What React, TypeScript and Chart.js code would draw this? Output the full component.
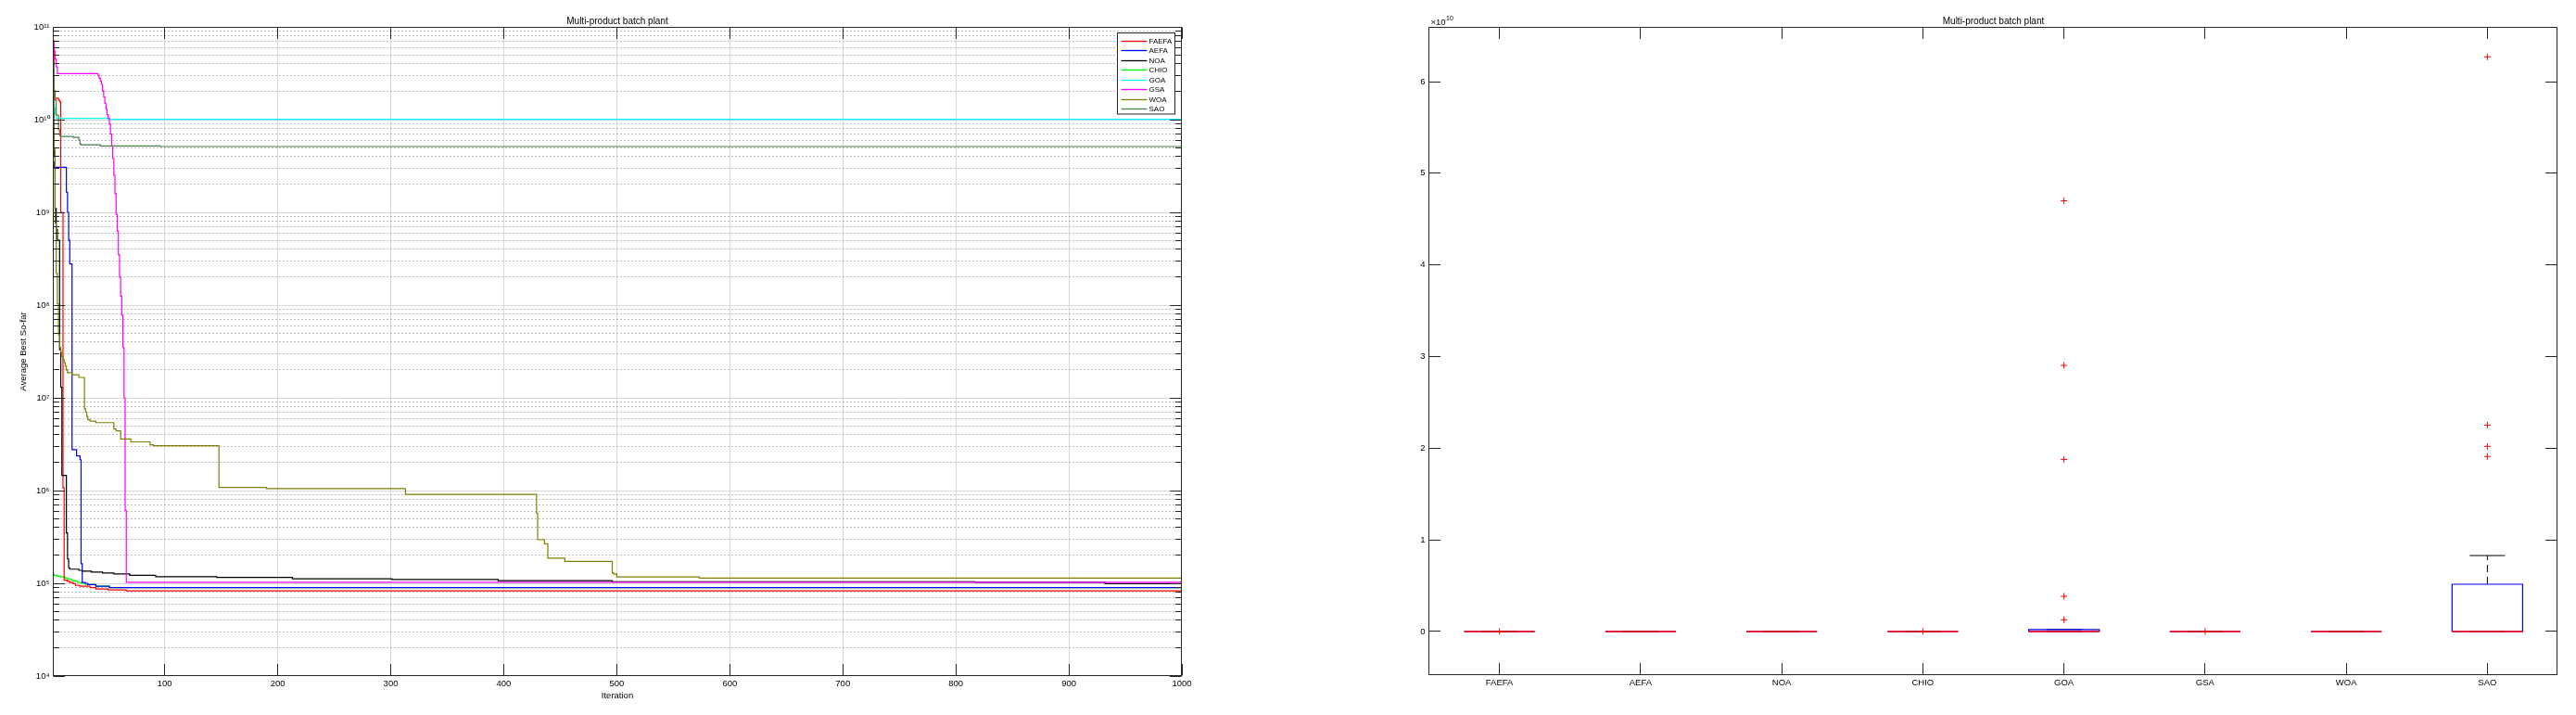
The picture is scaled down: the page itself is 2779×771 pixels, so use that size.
import React, { useEffect, useRef } from 'react';
import { Chart, registerables } from 'chart.js';

Chart.register(...registerables);

const FONT = '"Liberation Sans", Arial, Helvetica, sans-serif';
const TEXT_COLOR = '#000000';
const AXIS_COLOR = '#262626';
const MAJOR_GRID = '#d9d9d9';
const MINOR_GRID = '#bdbdbd';

// ================= Left panel: convergence curves =================
const chartTitle = 'Multi-product batch plant';
const xAxisLabel = 'Iteration';
const yAxisLabel = 'Average Best So-far';
const iterTicks = [100, 200, 300, 400, 500, 600, 700, 800, 900, 1000];
const decadeTicks = [1e4, 1e5, 1e6, 1e7, 1e8, 1e9, 1e10, 1e11];
const minorMultipliers = [2, 3, 4, 5, 6, 7, 8, 9];

const seriesNames = ['FAEFA', 'AEFA', 'NOA', 'CHIO', 'GOA', 'GSA', 'WOA', 'SAO'];
const seriesColors = ['#ff0000', '#0000ff', '#000000', '#00ff00', '#00ffff', '#ff00ff', '#808000', '#4c7f4c'];
const seriesLayer = [8, 7, 6, 9, 4, 3, 2, 1];

const faefaIter = [1, 2, 3, 6, 7, 8, 10, 11, 14, 16, 19, 21, 25, 34, 39, 50, 66, 1000];
const faefaVal = [7.1e10, 2.05e10, 1.7e10, 1.63e10, 1.55e10, 1.0e9, 1.07e6, 1.08e5, 1.05e5, 1.02e5, 9.9e4, 9.5e4, 9.3e4, 9.0e4, 8.7e4, 8.5e4, 8.3e4, 8.3e4];

const aefaIter = [1, 2, 13, 14, 15, 16, 18, 22, 25, 26, 27, 30, 32, 39, 51, 1000];
const aefaVal = [3.5e9, 3.07e9, 1.65e9, 1.0e9, 5.0e8, 2.78e8, 2.76e6, 2.36e6, 2.15e6, 1.63e5, 1.02e5, 1.0e5, 9.7e4, 9.3e4, 9.0e4, 9.0e4];

const noaIter = [1, 2, 3, 4, 5, 7, 8, 9, 13, 14, 15, 16, 24, 27, 35, 45, 55, 69, 92, 146, 213, 301, 395, 496, 817, 932, 1000];
const noaVal = [2.3e10, 4.0e9, 1.1e9, 6.5e8, 5.0e8, 3.3e7, 1.3e7, 1.46e6, 3.5e5, 1.83e5, 1.47e5, 1.42e5, 1.38e5, 1.35e5, 1.32e5, 1.29e5, 1.26e5, 1.22e5, 1.18e5, 1.16e5, 1.12e5, 1.1e5, 1.07e5, 1.04e5, 1.025e5, 9.9e4, 9.9e4];

const chioIter = [1, 2, 5, 8, 12, 14, 16, 18, 21, 23, 26, 30, 39, 51, 1000];
const chioVal = [1.28e5, 1.22e5, 1.19e5, 1.17e5, 1.14e5, 1.12e5, 1.1e5, 1.07e5, 1.05e5, 1.02e5, 1.0e5, 9.7e4, 9.3e4, 9.0e4, 9.0e4];

const goaIter = [1, 2, 3, 4, 51, 1000];
const goaVal = [1.6e10, 1.35e10, 1.15e10, 1.03e10, 1.01e10, 3.4e9];

const gsaIter = [1, 2, 3, 4, 5, 41, 42, 43, 44, 45, 46, 47, 48, 49, 50, 51, 52, 53, 54, 55, 56, 57, 58, 59, 60, 61, 62, 63, 64, 65, 66, 1000];
const gsaVal = [6.8e10, 5.5e10, 4.5e10, 3.7e10, 3.13e10, 3.0e10, 2.8e10, 2.6e10, 2.4e10, 2.05e10, 1.75e10, 1.5e10, 1.3e10, 1.13e10, 1.03e10, 9.0e9, 7.0e9, 5.2e9, 3.8e9, 2.5e9, 1.6e9, 9.5e8, 6.3e8, 3.5e8, 2.0e8, 1.25e8, 7.8e7, 3.5e7, 1.0e7, 6.1e5, 1.025e5, 1.025e5];

const woaIter = [1, 2, 3, 4, 5, 6, 7, 8, 9, 10, 11, 12, 13, 14, 18, 24, 29, 30, 31, 32, 34, 39, 55, 57, 61, 70, 87, 90, 148, 190, 313, 429, 430, 436, 439, 454, 496, 497, 500, 573, 1000];
const woaVal = [4.1e10, 4.8e9, 7.6e8, 2.2e8, 1.03e8, 4.8e7, 3.5e7, 3.1e7, 2.8e7, 2.6e7, 2.4e7, 2.2e7, 2.0e7, 1.87e7, 1.77e7, 1.66e7, 7.6e6, 7.0e6, 6.3e6, 5.8e6, 5.6e6, 5.4e6, 4.6e6, 4.4e6, 3.6e6, 3.35e6, 3.12e6, 3.04e6, 1.08e6, 1.05e6, 9.1e5, 5.7e5, 2.95e5, 2.67e5, 1.87e5, 1.72e5, 1.3e5, 1.26e5, 1.17e5, 1.14e5, 1.14e5];

const saoIter = [1, 2, 3, 4, 6, 7, 8, 19, 24, 25, 26, 43, 96, 1000];
const saoVal = [4.1e10, 2.05e10, 1.63e10, 1.12e10, 7.8e9, 6.7e9, 6.6e9, 6.45e9, 6.0e9, 5.45e9, 5.35e9, 5.2e9, 5.13e9, 5.13e9];

// ================= Right panel: box plot =================
const boxCategories = ['FAEFA', 'AEFA', 'NOA', 'CHIO', 'GOA', 'GSA', 'WOA', 'SAO'];
const boxQ1 = [8.2e4, 8.9e4, 9.8e4, 8.9e4, 9.6e4, 1.01e5, 1.12e5, 9.8e4];
const boxMedian = [8.3e4, 9.0e4, 9.9e4, 9.0e4, 1.3e5, 1.02e5, 1.14e5, 1.6e5];
const boxQ3 = [8.4e4, 9.1e4, 1.0e5, 9.1e4, 2.2e8, 1.03e5, 1.16e5, 5.16e9];
const whiskerLow = [8.1e4, 8.8e4, 9.7e4, 8.8e4, 9.0e4, 1.0e5, 1.1e5, 9.2e4];
const whiskerHigh = [8.5e4, 9.2e4, 1.01e5, 9.2e4, 2.3e8, 1.04e5, 1.18e5, 8.29e9];
const outlierCat = [1, 4, 5, 5, 5, 5, 5, 6, 8, 8, 8, 8];
const outlierVal = [1.2e7, 9.0e6, 4.70e10, 2.904e10, 1.878e10, 3.84e9, 1.28e9, 6.5e6, 6.27e10, 2.252e10, 2.02e10, 1.909e10];
const boxTicks = [0, 1e10, 2e10, 3e10, 4e10, 5e10, 6e10];
const boxExponent = 10;
const boxYMin = -4.756e9;
const boxYMax = 6.597e10;

const BOX_HALF = 0.25;
const CAP_HALF = 0.125;

const SUP: Record<string, string> = { '0': '⁰', '1': '¹', '2': '²', '3': '³', '4': '⁴', '5': '⁵', '6': '⁶', '7': '⁷', '8': '⁸', '9': '⁹' };
const powLabel = (v: number) =>
  '10' + String(Math.round(Math.log10(v))).split('').map((c) => SUP[c] || c).join('');

const px = (v: number) => Math.floor(v) + 0.5;

function hLine(ctx: CanvasRenderingContext2D, x1: number, x2: number, y: number) {
  ctx.beginPath();
  ctx.moveTo(x1, y);
  ctx.lineTo(x2, y);
  ctx.stroke();
}
function vLine(ctx: CanvasRenderingContext2D, x: number, y1: number, y2: number) {
  ctx.beginPath();
  ctx.moveTo(x, y1);
  ctx.lineTo(x, y2);
  ctx.stroke();
}

const convergenceFrame = {
  id: 'convergenceFrame',
  beforeDatasetsDraw(chart: any) {
    const { ctx, chartArea: ca, scales } = chart;
    const x = scales.x;
    const y = scales.y;
    ctx.save();
    ctx.lineWidth = 1;
    ctx.strokeStyle = MAJOR_GRID;
    ctx.setLineDash([]);
    iterTicks.forEach((t) => {
      const X = px(x.getPixelForValue(t));
      if (X > ca.left + 1 && X < ca.right - 1) vLine(ctx, X, ca.top, ca.bottom);
    });
    decadeTicks.forEach((d, i) => {
      if (i > 0 && i < decadeTicks.length - 1) {
        ctx.strokeStyle = MAJOR_GRID;
        ctx.setLineDash([]);
        hLine(ctx, ca.left, ca.right, px(y.getPixelForValue(d)));
      }
      if (i < decadeTicks.length - 1) {
        ctx.strokeStyle = MINOR_GRID;
        ctx.setLineDash([2, 2]);
        minorMultipliers.forEach((m) => {
          hLine(ctx, ca.left, ca.right, px(y.getPixelForValue(m * d)));
        });
      }
    });
    ctx.restore();
  },
  afterDatasetsDraw(chart: any) {
    const { ctx, chartArea: ca, scales } = chart;
    const x = scales.x;
    const y = scales.y;
    ctx.save();
    ctx.setLineDash([]);
    ctx.lineWidth = 1;
    ctx.strokeStyle = AXIS_COLOR;
    const L = px(ca.left), R = px(ca.right - 1), T = px(ca.top), B = px(ca.bottom - 1);
    ctx.strokeRect(L, T, R - L, B - T);
    iterTicks.forEach((t) => {
      const X = px(x.getPixelForValue(t));
      vLine(ctx, X, B, B - 12.5);
      vLine(ctx, X, T, T + 12.5);
    });
    decadeTicks.forEach((d, i) => {
      const Y = px(y.getPixelForValue(d));
      hLine(ctx, L, L + 12.5, Y);
      hLine(ctx, R, R - 12.5, Y);
      if (i < decadeTicks.length - 1) {
        minorMultipliers.forEach((m) => {
          const Ym = px(y.getPixelForValue(m * d));
          hLine(ctx, L, L + 6.5, Ym);
          hLine(ctx, R, R - 6.5, Ym);
        });
      }
    });
    ctx.restore();
  },
  afterDraw(chart: any) {
    const { ctx, chartArea: ca } = chart;
    const ds = chart.data.datasets;
    const rowH = 10.5;
    const boxW = 62;
    const padTop = 8;
    const padBottom = 6;
    const boxH = padTop + rowH * (ds.length - 1) + padBottom;
    const bx = Math.round(ca.right - 8 - boxW) + 0.5;
    const by = Math.round(ca.top + 6) + 0.5;
    ctx.save();
    ctx.fillStyle = '#ffffff';
    ctx.fillRect(bx, by, boxW, boxH);
    ctx.strokeStyle = AXIS_COLOR;
    ctx.lineWidth = 1;
    ctx.setLineDash([]);
    ctx.strokeRect(bx, by, boxW, boxH);
    ctx.font = `8px ${FONT}`;
    ctx.textAlign = 'left';
    ctx.textBaseline = 'middle';
    ds.forEach((d: any, i: number) => {
      const cy = by + padTop + i * rowH;
      ctx.strokeStyle = d.borderColor;
      ctx.lineWidth = 1.3;
      hLine(ctx, bx + 4, bx + 32, Math.round(cy) + 0.5);
      ctx.fillStyle = TEXT_COLOR;
      ctx.fillText(d.label, bx + 34, cy + 1);
    });
    ctx.restore();
  },
};

const boxFrame = {
  id: 'boxFrame',
  afterDatasetsDraw(chart: any) {
    const { ctx, chartArea: ca, scales } = chart;
    const x = scales.x;
    const y = scales.y;
    ctx.save();
    ctx.setLineDash([]);
    ctx.lineWidth = 1;
    ctx.strokeStyle = AXIS_COLOR;
    const L = px(ca.left), R = px(ca.right - 1), T = px(ca.top), B = px(ca.bottom - 1);
    ctx.strokeRect(L, T, R - L, B - T);
    boxCategories.forEach((_, i) => {
      const X = px(x.getPixelForValue(i + 1));
      vLine(ctx, X, B, B - 12.5);
      vLine(ctx, X, T, T + 12.5);
    });
    boxTicks.forEach((t) => {
      const Y = px(y.getPixelForValue(t));
      hLine(ctx, L, L + 12.5, Y);
      hLine(ctx, R, R - 12.5, Y);
    });
    ctx.fillStyle = TEXT_COLOR;
    ctx.textAlign = 'left';
    ctx.textBaseline = 'alphabetic';
    ctx.font = `9.5px ${FONT}`;
    const tx = ca.left + 2;
    const ty = ca.top - 2.5;
    ctx.fillText('×10', tx, ty);
    const w = ctx.measureText('×10').width;
    ctx.font = `7px ${FONT}`;
    ctx.fillText(String(boxExponent), tx + w + 0.5, ty - 4.5);
    ctx.restore();
  },
};

const tickFont = { family: FONT, size: 9.5 };

function convergenceConfig(): any {
  const pairs = [
    [faefaIter, faefaVal],
    [aefaIter, aefaVal],
    [noaIter, noaVal],
    [chioIter, chioVal],
    [goaIter, goaVal],
    [gsaIter, gsaVal],
    [woaIter, woaVal],
    [saoIter, saoVal],
  ];
  const datasets = seriesNames.map((name, i) => ({
    label: name,
    data: pairs[i][0].map((it, j) => ({ x: it, y: pairs[i][1][j] })),
    borderColor: seriesColors[i],
    backgroundColor: seriesColors[i],
    borderWidth: 1.2,
    pointRadius: 0,
    pointHoverRadius: 0,
    stepped: 'before',
    tension: 0,
    fill: false,
    order: seriesLayer[i],
  }));
  return {
    type: 'line',
    data: { datasets },
    plugins: [convergenceFrame],
    options: {
      animation: false,
      responsive: false,
      devicePixelRatio: 1,
      parsing: true,
      layout: { padding: 0 },
      plugins: {
        legend: { display: false },
        tooltip: { enabled: false },
        title: {
          display: true,
          text: chartTitle,
          color: TEXT_COLOR,
          font: { family: FONT, size: 10, weight: 'normal' },
          padding: { top: 17, bottom: 0 },
        },
      },
      scales: {
        x: {
          type: 'linear',
          min: 1,
          max: 1000,
          afterBuildTicks: (s: any) => {
            s.ticks = iterTicks.map((v) => ({ value: v }));
          },
          afterFit: (s: any) => {
            s.height = 42;
          },
          grid: { display: false, drawTicks: false },
          border: { display: false },
          ticks: {
            autoSkip: false,
            maxRotation: 0,
            padding: 3,
            color: TEXT_COLOR,
            font: tickFont,
            callback: (v: any) => String(v),
          },
          title: {
            display: true,
            text: xAxisLabel,
            color: TEXT_COLOR,
            font: tickFont,
            padding: { top: 0, bottom: 15.3 },
          },
        },
        y: {
          type: 'logarithmic',
          position: 'left',
          min: 1e4,
          max: 1e11,
          afterBuildTicks: (s: any) => {
            s.ticks = decadeTicks.map((v) => ({ value: v }));
          },
          afterFit: (s: any) => {
            s.width = 57;
          },
          grid: { display: false, drawTicks: false },
          border: { display: false },
          ticks: {
            autoSkip: false,
            padding: 3.5,
            color: TEXT_COLOR,
            font: tickFont,
            callback: (v: any) => powLabel(Number(v)),
          },
          title: {
            display: true,
            text: yAxisLabel,
            color: TEXT_COLOR,
            font: tickFont,
            padding: { top: 20, bottom: 0 },
          },
        },
        yMirror: {
          type: 'linear',
          position: 'right',
          display: true,
          grid: { display: false, drawTicks: false },
          border: { display: false },
          ticks: { display: false },
          afterFit: (s: any) => {
            s.width = 57;
          },
        },
      },
    },
  };
}

function boxConfig(): any {
  const boxes: any[] = [];
  const whiskers: any[] = [];
  const caps: any[] = [];
  const medians: any[] = [];
  boxCategories.forEach((_, i) => {
    const c = i + 1;
    boxes.push(
      { x: c - BOX_HALF, y: boxQ1[i] },
      { x: c - BOX_HALF, y: boxQ3[i] },
      { x: c + BOX_HALF, y: boxQ3[i] },
      { x: c + BOX_HALF, y: boxQ1[i] },
      { x: c - BOX_HALF, y: boxQ1[i] },
      { x: c, y: null }
    );
    whiskers.push(
      { x: c, y: boxQ3[i] },
      { x: c, y: whiskerHigh[i] },
      { x: c, y: null },
      { x: c, y: boxQ1[i] },
      { x: c, y: whiskerLow[i] },
      { x: c, y: null }
    );
    caps.push(
      { x: c - CAP_HALF, y: whiskerHigh[i] },
      { x: c + CAP_HALF, y: whiskerHigh[i] },
      { x: c, y: null },
      { x: c - CAP_HALF, y: whiskerLow[i] },
      { x: c + CAP_HALF, y: whiskerLow[i] },
      { x: c, y: null }
    );
    medians.push({ x: c - BOX_HALF, y: boxMedian[i] }, { x: c + BOX_HALF, y: boxMedian[i] }, { x: c, y: null });
  });
  const outliers = outlierCat.map((c, k) => ({ x: c, y: outlierVal[k] }));
  const lineBase = { pointRadius: 0, pointHoverRadius: 0, tension: 0, fill: false, spanGaps: false, borderCapStyle: 'butt' };
  return {
    type: 'line',
    data: {
      datasets: [
        { ...lineBase, label: 'whiskers', data: whiskers, borderColor: '#000000', borderWidth: 1, borderDash: [8, 5], order: 5 },
        { ...lineBase, label: 'caps', data: caps, borderColor: '#000000', borderWidth: 1, order: 4 },
        { ...lineBase, label: 'boxes', data: boxes, borderColor: '#0000ff', borderWidth: 1.2, order: 3 },
        { ...lineBase, label: 'medians', data: medians, borderColor: '#ff0000', borderWidth: 1.3, order: 2 },
        {
          label: 'outliers',
          data: outliers,
          showLine: false,
          pointStyle: 'cross',
          pointRadius: 3.5,
          pointHoverRadius: 3.5,
          pointBorderColor: '#ff0000',
          pointBackgroundColor: '#ff0000',
          pointBorderWidth: 1,
          order: 1,
        },
      ],
    },
    plugins: [boxFrame],
    options: {
      animation: false,
      responsive: false,
      devicePixelRatio: 1,
      layout: { padding: 0 },
      plugins: {
        legend: { display: false },
        tooltip: { enabled: false },
        title: {
          display: true,
          text: chartTitle,
          color: TEXT_COLOR,
          font: { family: FONT, size: 10, weight: 'normal' },
          padding: { top: 17, bottom: 0 },
        },
      },
      scales: {
        x: {
          type: 'linear',
          min: 0.5,
          max: boxCategories.length + 0.5,
          afterBuildTicks: (s: any) => {
            s.ticks = boxCategories.map((_, i) => ({ value: i + 1 }));
          },
          afterFit: (s: any) => {
            s.height = 43;
          },
          grid: { display: false, drawTicks: false },
          border: { display: false },
          ticks: {
            autoSkip: false,
            maxRotation: 0,
            padding: 3,
            color: TEXT_COLOR,
            font: tickFont,
            callback: (v: any) => boxCategories[Math.round(Number(v)) - 1] ?? '',
          },
        },
        y: {
          type: 'linear',
          position: 'left',
          min: boxYMin,
          max: boxYMax,
          afterBuildTicks: (s: any) => {
            s.ticks = boxTicks.map((v) => ({ value: v }));
          },
          afterFit: (s: any) => {
            s.width = 19.5;
          },
          grid: { display: false, drawTicks: false },
          border: { display: false },
          ticks: {
            autoSkip: false,
            padding: 4,
            color: TEXT_COLOR,
            font: tickFont,
            callback: (v: any) => String(Math.round(Number(v) / Math.pow(10, boxExponent))),
          },
        },
        yMirror: {
          type: 'linear',
          position: 'right',
          display: true,
          grid: { display: false, drawTicks: false },
          border: { display: false },
          ticks: { display: false },
          afterFit: (s: any) => {
            s.width = 19.5;
          },
        },
      },
    },
  };
}

export default function App() {
  const leftRef = useRef<HTMLCanvasElement>(null);
  const rightRef = useRef<HTMLCanvasElement>(null);

  useEffect(() => {
    const c1 = new Chart(leftRef.current as HTMLCanvasElement, convergenceConfig());
    const c2 = new Chart(rightRef.current as HTMLCanvasElement, boxConfig());
    return () => {
      c1.destroy();
      c2.destroy();
    };
  }, []);

  return (
    <div
      style={{
        position: 'absolute',
        left: 0,
        top: 0,
        width: 2779,
        height: 771,
        background: '#ffffff',
        overflow: 'hidden',
      }}
    >
      <canvas
        ref={leftRef}
        width={1332}
        height={771}
        style={{ position: 'absolute', left: 0, top: 0, width: 1332, height: 771 }}
      />
      <canvas
        ref={rightRef}
        width={1257}
        height={771}
        style={{ position: 'absolute', left: 1522, top: 0, width: 1257, height: 771 }}
      />
    </div>
  );
}
